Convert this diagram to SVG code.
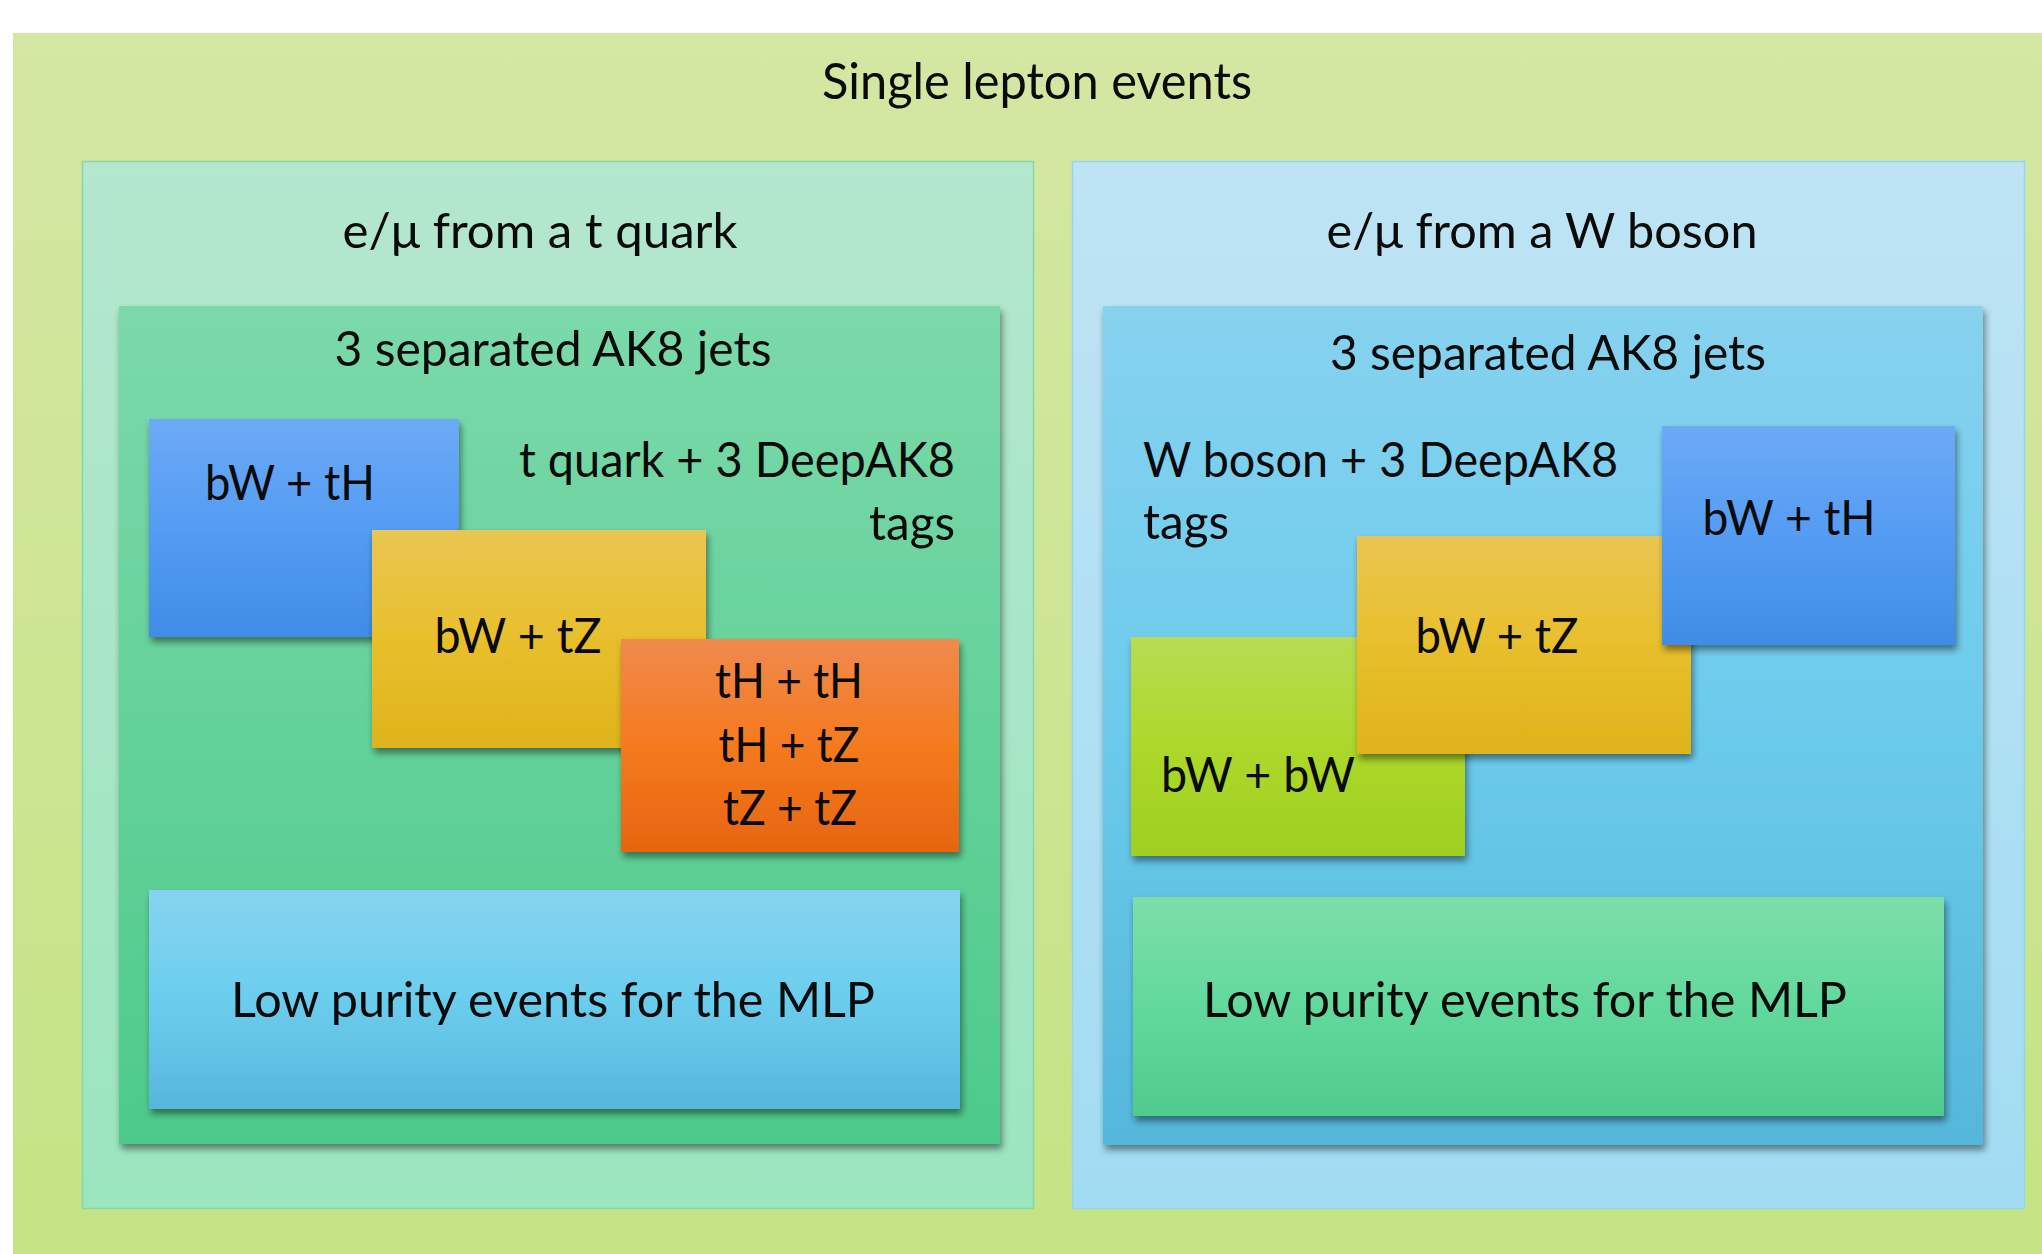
<svg xmlns="http://www.w3.org/2000/svg" width="2042" height="1254" viewBox="0 0 2042 1254">
  <defs>
    <linearGradient id="gBg" x1="0" y1="0" x2="0" y2="1">
      <stop offset="0" stop-color="#d4e7a3"/>
      <stop offset="1" stop-color="#c5e384"/>
    </linearGradient>
    <linearGradient id="gPanelT" x1="0" y1="0" x2="0" y2="1">
      <stop offset="0" stop-color="#b4e7ce"/>
      <stop offset="1" stop-color="#9be5bf"/>
    </linearGradient>
    <linearGradient id="gPanelW" x1="0" y1="0" x2="0" y2="1">
      <stop offset="0" stop-color="#bee4f4"/>
      <stop offset="1" stop-color="#a2dcf2"/>
    </linearGradient>
    <linearGradient id="gInnerT" x1="0" y1="0" x2="0" y2="1">
      <stop offset="0" stop-color="#7bd9aa"/>
      <stop offset="1" stop-color="#4dca8b"/>
    </linearGradient>
    <linearGradient id="gInnerW" x1="0" y1="0" x2="0" y2="1">
      <stop offset="0" stop-color="#86d2ef"/>
      <stop offset="0.5" stop-color="#6ccbec"/>
      <stop offset="1" stop-color="#55b7da"/>
    </linearGradient>
    <linearGradient id="gBlue" x1="0" y1="0" x2="0" y2="1">
      <stop offset="0" stop-color="#6caaf6"/>
      <stop offset="0.5" stop-color="#549cf3"/>
      <stop offset="1" stop-color="#408ce6"/>
    </linearGradient>
    <linearGradient id="gYellow" x1="0" y1="0" x2="0" y2="1">
      <stop offset="0" stop-color="#e9c652"/>
      <stop offset="0.5" stop-color="#e8bf2c"/>
      <stop offset="1" stop-color="#dfb31b"/>
    </linearGradient>
    <linearGradient id="gOrange" x1="0" y1="0" x2="0" y2="1">
      <stop offset="0" stop-color="#f08a4d"/>
      <stop offset="0.5" stop-color="#f57a1f"/>
      <stop offset="1" stop-color="#e6650f"/>
    </linearGradient>
    <linearGradient id="gLime" x1="0" y1="0" x2="0" y2="1">
      <stop offset="0" stop-color="#b7dc54"/>
      <stop offset="0.5" stop-color="#acd82a"/>
      <stop offset="1" stop-color="#a0cf20"/>
    </linearGradient>
    <linearGradient id="gSky" x1="0" y1="0" x2="0" y2="1">
      <stop offset="0" stop-color="#86d4ef"/>
      <stop offset="0.5" stop-color="#6bcdee"/>
      <stop offset="1" stop-color="#57b7db"/>
    </linearGradient>
    <linearGradient id="gMint" x1="0" y1="0" x2="0" y2="1">
      <stop offset="0" stop-color="#7cdeaa"/>
      <stop offset="0.5" stop-color="#62d99c"/>
      <stop offset="1" stop-color="#4fcb8d"/>
    </linearGradient>
    <filter id="shadow" x="-10%" y="-10%" width="125%" height="130%">
      <feDropShadow dx="2" dy="5" stdDeviation="3.5" flood-color="#000" flood-opacity="0.45"/>
    </filter>
  </defs>
  <style>
    text { font-family: Lato, "Open Sans", "DejaVu Sans", sans-serif; fill: #0a0a0a; font-size: 49px; }
    .title { font-size: 51px; }
    .mid { text-anchor: middle; }
    .end { text-anchor: end; }
    .card { filter: url(#shadow); }
  </style>

  <!-- page background -->
  <rect x="0" y="0" width="2042" height="1254" fill="#ffffff"/>
  <g id="single-lepton">
    <rect x="13" y="33" width="2029" height="1221" fill="url(#gBg)"/>
    <text class="title mid" x="1037" y="99" textLength="430" lengthAdjust="spacingAndGlyphs">Single lepton events</text>
  </g>

  <!-- left column: lepton from the top quark -->
  <g id="lep-from-t">
    <rect x="82.5" y="161.5" width="951" height="1047" fill="url(#gPanelT)" stroke="#83d9a6" stroke-width="1.5"/>
    <text class="mid" x="540" y="248" textLength="395" lengthAdjust="spacingAndGlyphs">e/μ from a t quark</text>
  </g>
  <g id="t-ak8">
    <rect class="card" x="119" y="306" width="881" height="838" fill="url(#gInnerT)"/>
    <text class="mid" x="553" y="366" textLength="437" lengthAdjust="spacingAndGlyphs">3 separated AK8 jets</text>
    <text class="end" x="955" y="477" textLength="436" lengthAdjust="spacingAndGlyphs">t quark + 3 DeepAK8</text>
    <text class="end" x="955" y="540" textLength="86" lengthAdjust="spacingAndGlyphs">tags</text>
  </g>
  <g id="t-bw-th">
    <rect class="card" x="149" y="419" width="310" height="218" fill="url(#gBlue)"/>
    <text class="mid" x="290" y="500" textLength="170" lengthAdjust="spacingAndGlyphs">bW + tH</text>
  </g>
  <g id="t-bw-tz">
    <rect class="card" x="372" y="530" width="334" height="218" fill="url(#gYellow)"/>
    <text class="mid" x="518" y="653" textLength="167" lengthAdjust="spacingAndGlyphs">bW + tZ</text>
  </g>
  <g id="t-boosted">
    <rect class="card" x="621" y="639" width="338" height="213" fill="url(#gOrange)"/>
    <text class="mid" x="789" y="698" textLength="148" lengthAdjust="spacingAndGlyphs">tH + tH</text>
    <text class="mid" x="789" y="762" textLength="141" lengthAdjust="spacingAndGlyphs">tH + tZ</text>
    <text class="mid" x="790" y="825" textLength="134" lengthAdjust="spacingAndGlyphs">tZ + tZ</text>
  </g>
  <g id="t-low-purity">
    <rect class="card" x="149" y="890" width="811" height="219" fill="url(#gSky)"/>
    <text class="mid" x="553" y="1017" textLength="644" lengthAdjust="spacingAndGlyphs">Low purity events for the MLP</text>
  </g>

  <!-- right column: lepton from the W boson -->
  <g id="lep-from-w">
    <rect x="1072.5" y="161.5" width="952" height="1047" fill="url(#gPanelW)" stroke="#93d5ef" stroke-width="1.5"/>
    <text class="mid" x="1542" y="248" textLength="431" lengthAdjust="spacingAndGlyphs">e/μ from a W boson</text>
  </g>
  <g id="w-ak8">
    <rect class="card" x="1103" y="306" width="880" height="839" fill="url(#gInnerW)"/>
    <text class="mid" x="1548" y="370" textLength="436" lengthAdjust="spacingAndGlyphs">3 separated AK8 jets</text>
    <text x="1143" y="477" textLength="475" lengthAdjust="spacingAndGlyphs">W boson + 3 DeepAK8</text>
    <text x="1143" y="539" textLength="86" lengthAdjust="spacingAndGlyphs">tags</text>
  </g>
  <g id="w-bw-bw">
    <rect class="card" x="1131" y="637" width="334" height="219" fill="url(#gLime)"/>
    <text x="1161" y="792" textLength="194" lengthAdjust="spacingAndGlyphs">bW + bW</text>
  </g>
  <g id="w-bw-tz">
    <rect class="card" x="1357" y="536" width="334" height="218" fill="url(#gYellow)"/>
    <text class="mid" x="1497" y="653" textLength="163" lengthAdjust="spacingAndGlyphs">bW + tZ</text>
  </g>
  <g id="w-bw-th">
    <rect class="card" x="1662" y="426" width="293" height="219" fill="url(#gBlue)"/>
    <text class="mid" x="1789" y="535" textLength="173" lengthAdjust="spacingAndGlyphs">bW + tH</text>
  </g>
  <g id="w-low-purity">
    <rect class="card" x="1133" y="897" width="811" height="219" fill="url(#gMint)"/>
    <text class="mid" x="1525" y="1017" textLength="644" lengthAdjust="spacingAndGlyphs">Low purity events for the MLP</text>
  </g>

  <g id="connectors"/>
</svg>
